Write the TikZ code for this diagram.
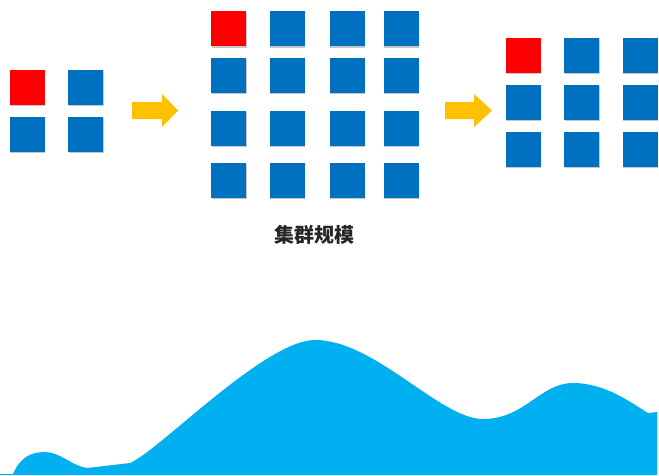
\documentclass[tikz,border=0pt]{standalone}
\usepackage{fontspec}
\newfontfamily\cjk{Noto Sans CJK SC}
\usetikzlibrary{shadows}
\definecolor{sqblue}{HTML}{0070C0}
\definecolor{sqred}{HTML}{FF0000}
\definecolor{arrowyellow}{HTML}{FFC000}
\definecolor{wavecyan}{HTML}{00B0F0}
\tikzset{
  sqbase/.style={draw=none, minimum width=35pt, minimum height=35pt, inner sep=0pt},
  sq/.style={sqbase, fill=sqblue,
    drop shadow={shadow xshift=0.6pt, shadow yshift=-1.6pt, opacity=0.22, fill=black}},
  sqr/.style={sqbase, fill=sqred},
  fatarrow/.style={fill=arrowyellow, draw=none},
  label/.style={font=\cjk\bfseries\fontsize{20}{24}\selectfont, text=black!85},
}
\begin{document}
\begin{tikzpicture}[x=1pt,y=-1pt]
\useasboundingbox (0,0) rectangle (659,475);
% left group
\node[sq] (a11) at (27,87) {};
\node[sqr] at (a11) {};
\node[sq] (a12) at (85.5,87) {};
\node[sq] (a21) at (27,134) {};
\node[sq] (a22) at (85.5,134) {};
% middle group
\foreach \r/\y in {1/28.5,2/75,3/128,4/180}{
  \foreach \c/\x in {1/228.5,2/287,3/347,4/401}{
    \node[sq] (b\r\c) at (\x,\y) {};
  }
}
\node[sqr] at (b11) {};
% right group
\foreach \r/\y in {1/55,2/102,3/149}{
  \foreach \c/\x in {1/523,2/581.5,3/640}{
    \node[sq] (c\r\c) at (\x,\y) {};
  }
}
\node[sqr] at (c11) {};
% arrows
\fill[fatarrow] (132,102) -- (162,102) -- (162,94) -- (178,110.5) -- (162,127) -- (162,119) -- (132,119) -- cycle;
\fill[fatarrow] (445,102) -- (474,102) -- (474,94) -- (492,110.5) -- (474,127) -- (474,119) -- (445,119) -- cycle;
% label
\node[label] (title) at (314.5,235) {集群规模};
% wave
\fill[wavecyan] (0,475) -- (0,474) -- (13,474)
  .. controls (20,458) and (30,452) .. (45,452)
  .. controls (60,452) and (72,466) .. (87,468)
  -- (130,463)
  .. controls (160,450) and (265,340) .. (315,340)
  .. controls (375,340) and (440,419) .. (483,419)
  .. controls (525,419) and (540,383) .. (573,383)
  .. controls (605,383) and (630,402) .. (648,413)
  -- (657,412) -- (657,475) -- cycle;
\end{tikzpicture}
\end{document}
